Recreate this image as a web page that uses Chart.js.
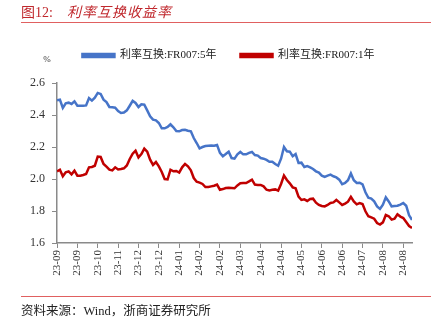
<!DOCTYPE html>
<html>
<head>
<meta charset="utf-8">
<script src="https://cdn.jsdelivr.net/npm/chart.js@4/dist/chart.umd.min.js"></script>
<style>
  html, body { margin: 0; padding: 0; background: #fff; }
  #wrap { position: relative; width: 438px; height: 327px; overflow: hidden; font-family: 'Liberation Serif', 'Noto Sans CJK SC', serif; }
  #c { position: absolute; left: 0; top: 0; }
  .title { position: absolute; left: 21px; top: 1px; font-size: 14px; color: #c0282d; white-space: nowrap; }
  .title .t2 { letter-spacing: 1px; margin-left: 14px; font-style: italic; }
  .rule { position: absolute; left: 21px; width: 410px; height: 1px; background: #e06060; }
  .src { position: absolute; left: 21px; top: 300px; font-size: 12.5px; color: #222; white-space: nowrap; }
</style>
</head>
<body>
<div id="wrap">
  <canvas id="c" width="438" height="327"></canvas>
  <div class="title">图12:<span class="t2">利率互换收益率</span></div>
  <div class="rule" style="top:22px"></div>
  <div class="rule" style="top:296px"></div>
  <div class="src">资料来源：Wind，浙商证券研究所</div>
</div>
<script>
// Tick labels on the time axis (one every 7 data points)
const tickLabels = ['23-09','23-09','23-10','23-11','23-12','23-12','24-01','24-02','24-02','24-03','24-04','24-04','24-05','24-06','24-06','24-07','24-08','24-08'];
const tickStep = 7;

const seriesNames = ['利率互换:FR007:5年', '利率互换:FR007:1年'];

// FR007 5Y swap rate (%)
const swap5y = [2.492,2.496,2.444,2.473,2.477,2.469,2.485,2.458,2.458,2.458,
  2.460,2.506,2.490,2.508,2.538,2.531,2.496,2.481,2.450,2.448,
  2.446,2.425,2.413,2.415,2.429,2.458,2.488,2.475,2.450,2.467,
  2.465,2.429,2.392,2.371,2.367,2.350,2.317,2.317,2.325,2.342,
  2.323,2.300,2.298,2.306,2.308,2.302,2.298,2.256,2.225,2.192,
  2.200,2.206,2.208,2.210,2.208,2.213,2.163,2.142,2.156,2.171,
  2.131,2.127,2.154,2.169,2.154,2.154,2.163,2.169,2.150,2.146,
  2.131,2.127,2.119,2.108,2.108,2.094,2.083,2.127,2.200,2.173,
  2.171,2.142,2.156,2.100,2.102,2.075,2.081,2.073,2.063,2.048,
  2.040,2.021,2.013,2.021,2.027,2.017,2.010,1.996,1.967,1.975,
  1.992,2.035,1.992,1.975,1.977,1.967,1.917,1.883,1.877,1.860,
  1.829,1.813,1.840,1.885,1.860,1.829,1.831,1.833,1.840,1.850,
  1.833,1.773,1.744];

// FR007 1Y swap rate (%)
const swap1y = [2.048,2.058,2.017,2.042,2.048,2.029,2.052,2.021,2.021,2.025,
  2.031,2.073,2.075,2.083,2.140,2.138,2.094,2.077,2.058,2.054,
  2.073,2.060,2.063,2.067,2.085,2.125,2.158,2.177,2.135,2.156,
  2.190,2.171,2.121,2.088,2.106,2.079,2.044,2.000,1.998,2.058,
  2.048,2.050,2.040,2.073,2.094,2.079,2.054,2.006,1.983,1.977,
  1.969,1.950,1.950,1.954,1.958,1.965,1.933,1.937,1.944,1.946,
  1.944,1.942,1.960,1.973,1.975,1.975,1.985,1.996,1.965,1.963,
  1.963,1.954,1.933,1.929,1.933,1.935,1.927,1.969,2.021,1.994,
  1.973,1.948,1.942,1.890,1.869,1.873,1.863,1.875,1.877,1.852,
  1.838,1.831,1.829,1.838,1.850,1.854,1.869,1.854,1.838,1.846,
  1.858,1.888,1.860,1.842,1.850,1.844,1.798,1.767,1.760,1.752,
  1.725,1.715,1.729,1.775,1.767,1.746,1.752,1.779,1.765,1.756,
  1.731,1.706,1.694];

const yTicks = [1.6, 1.8, 2.0, 2.2, 2.4, 2.6];

const toXY = arr => arr.map((v, i) => ({x: i, y: v}));
const FONT = "'Liberation Serif', 'Noto Sans CJK SC', serif";
const AXIS = '#8a8a8a';

const unitPlugin = {
  id: 'unit',
  afterDraw(chart) {
    const {ctx, chartArea} = chart;
    ctx.save();
    ctx.font = "9px " + FONT;
    ctx.fillStyle = '#333';
    ctx.textAlign = 'center';
    ctx.textBaseline = 'middle';
    ctx.fillText('%', chartArea.left - 10, chartArea.top - 23);
    ctx.restore();
  }
};

new Chart(document.getElementById('c'), {
  type: 'line',
  data: {
    datasets: [
      { label: seriesNames[0], data: toXY(swap5y), borderColor: '#4674c8', backgroundColor: '#4674c8', borderWidth: 2.5, pointRadius: 0, tension: 0 },
      { label: seriesNames[1], data: toXY(swap1y), borderColor: '#c00000', backgroundColor: '#c00000', borderWidth: 2.5, pointRadius: 0, tension: 0 }
    ]
  },
  options: {
    responsive: false,
    animation: false,
    events: [],
    layout: { padding: { left: 45, right: 26, top: 26, bottom: 44 } },
    plugins: {
      tooltip: { enabled: false },
      legend: {
        display: true,
        position: 'top',
        labels: { boxWidth: 32, boxHeight: 3, padding: 24, color: '#222', font: { family: FONT, size: 11 } }
      },
      subtitle: {
        display: true, text: '', position: 'top', weight: 500,
        padding: 0, font: { size: 12, lineHeight: 1 }
      }
    },
    scales: {
      x: {
        type: 'linear',
        min: 0,
        max: swap5y.length - 1,
        afterBuildTicks(scale) { scale.ticks = tickLabels.map((_, k) => ({ value: k * tickStep })); },
        afterFit(scale) { scale.height = 40; },
        grid: { drawOnChartArea: false, drawTicks: true, tickLength: 5, color: AXIS },
        border: { color: AXIS, width: 1.5 },
        ticks: {
          autoSkip: false, maxRotation: 90, minRotation: 90, padding: 2,
          color: '#333', font: { family: FONT, size: 11 },
          callback(value) { return tickLabels[Math.round(value / tickStep)]; }
        }
      },
      y: {
        min: 1.6, max: 2.6,
        afterBuildTicks(scale) { scale.ticks = yTicks.map(v => ({ value: v })); },
        afterFit(scale) { scale.width = 12; },
        grid: { drawOnChartArea: false, drawTicks: true, tickLength: 5, color: AXIS },
        border: { color: AXIS, width: 1.5 },
        ticks: { mirror: true, crossAlign: 'near', padding: -27, color: '#333', font: { family: FONT, size: 12 }, callback: v => v.toFixed(1) }
      }
    }
  },
  plugins: [unitPlugin]
});
</script>
</body>
</html>
